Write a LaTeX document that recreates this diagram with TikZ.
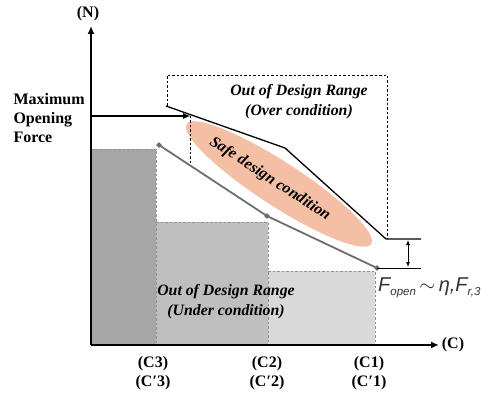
\documentclass[tikz,border=0pt]{standalone}
\usepackage{fontspec}
\setmainfont{Liberation Serif}
\newfontfamily\sansf{Liberation Sans}
\usetikzlibrary{arrows.meta,shapes.geometric}
\definecolor{dkg}{HTML}{A6A6A6}
\definecolor{mdg}{HTML}{BFBFBF}
\definecolor{ltg}{HTML}{D9D9D9}
\definecolor{bdc}{HTML}{7C93B5}
\definecolor{lng}{HTML}{6E6E6E}
\definecolor{salmon}{HTML}{F5BFA6}
\definecolor{ftxt}{HTML}{333333}
\newcommand\mysub[1]{\raisebox{-4pt}{\fontsize{11.5}{12}\selectfont #1}}
\tikzset{
  axis/.style={line width=2.2pt,-{Latex[length=8pt,width=7pt]}},
  bdash/.style={bdc,dashed,line width=0.7pt,dash pattern=on 2.5pt off 2pt},
  boxdash/.style={black,line width=0.6pt,dash pattern=on 2.5pt off 2pt},
  gline/.style={lng,line width=1.8pt},
  mk/.style={diamond,fill=lng,inner sep=0pt,minimum size=6pt},
  bline/.style={black,line width=1.3pt},
  lbl/.style={font=\bfseries\fontsize{16}{19}\selectfont},
  ilbl/.style={font=\bfseries\itshape\fontsize{15.8}{20}\selectfont,align=center},
}
\begin{document}
\begin{tikzpicture}[x=1pt,y=-1pt]
\useasboundingbox (0,0) rectangle (489,395);
\coordinate (O) at (91,345);
\coordinate (ytop) at (91,26);
\coordinate (xend) at (439,345);
% regions
\fill[dkg] (91,149) rectangle (156,345);
\fill[mdg] (156,222) rectangle (268,345);
\fill[ltg] (268,271) rectangle (375,345);
\draw[bdash] (91,149) -- (156,149) -- (156,345);
\draw[bdash] (156,222) -- (268,222) -- (268,345);
\draw[bdash] (268,271) -- (375,271) -- (375,345);
% ellipse
\node[ellipse,fill=salmon,rotate=-33,minimum width=220pt,minimum height=44pt] (ell) at (279,184) {};
\node[ilbl,rotate=-33] (safe) at (270,179) {Safe design condition};
% dashed over-box
\coordinate (b1) at (167,106);
\coordinate (b2) at (167,75);
\coordinate (b3) at (387,75);
\coordinate (b4) at (387,239);
\draw[boxdash] (b1) -- (b2) -- (b3) -- (b4);
\coordinate (v1) at (190,116);
\coordinate (v2) at (190,163);
\draw[boxdash] (v1) -- (v2);
% upper black line
\coordinate (u1) at (166,106);
\coordinate (u2) at (285,148);
\coordinate (u3) at (386,239);
\coordinate (u4) at (421,239);
\draw[bline] (u1) -- (u2) -- (u3) -- (u4);
% gray line with markers
\node[mk] (g1) at (159,145) {};
\node[mk] (g2) at (267,216) {};
\node[mk] (g3) at (377,268) {};
\draw[gline] (g1.center) -- (g2.center) -- (g3.center);
\coordinate (h1) at (421,268);
\draw[bline,line width=0.9pt] (g3.center) -- (h1);
% double arrow
\coordinate (d1) at (408,240);
\coordinate (d2) at (408,267);
\draw[line width=0.9pt,{Latex[length=5pt,width=4pt]}-{Latex[length=5pt,width=4pt]}] (d1) -- (d2);
% max opening force arrow
\coordinate (m0) at (91,116);
\coordinate (m1) at (191,116);
\draw[line width=2pt,-{Latex[length=8pt,width=6pt]}] (m0) -- (m1);
% axes
\draw[axis] (O) -- (ytop);
\draw[axis] (O) -- (xend);
% labels
\node[lbl] (nl) at (88,14) {(N)};
\node[lbl] (cl) at (453,345) {(C)};
\node[lbl,align=left,anchor=west] (mof) at (10,118) {Maximum\\Opening\\Force};
\node[lbl,align=center] (c3) at (153,373) {(C3)\\(C′3)};
\node[lbl,align=center] (c2) at (267,373) {(C2)\\(C′2)};
\node[lbl,align=center] (c1) at (369,373) {(C1)\\(C′1)};
\node[ilbl] (over) at (299,102) {Out of Design Range\\(Over condition)};
\node[ilbl] (under) at (226,302) {Out of Design Range\\(Under condition)};
\node[anchor=base west,inner sep=0pt,text=ftxt,font=\sansf\itshape\fontsize{20}{22}\selectfont] (flab) at (378,291) {F\mysub{open}\,$\sim$\,η,F\mysub{r,3}};
\end{tikzpicture}
\end{document}
